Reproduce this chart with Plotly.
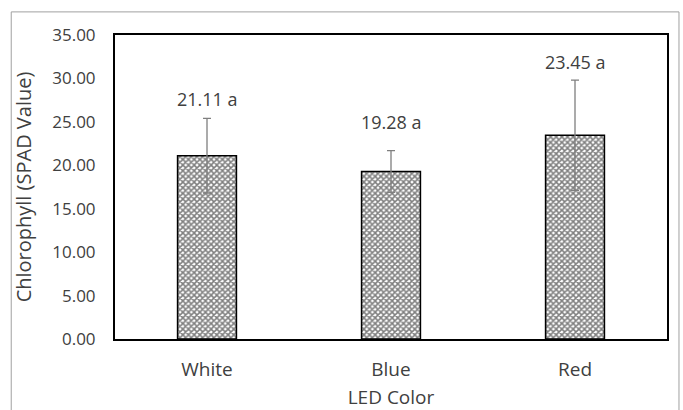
import plotly.graph_objects as go

categories = ["White", "Blue", "Red"]
means = [21.11, 19.28, 23.45]
errors = [4.3, 2.4, 6.35]
letters = ["a", "a", "a"]
y_ticks = [0, 5, 10, 15, 20, 25, 30, 35]

label_shift = [57, 50, 73]

fig = go.Figure()
fig.add_trace(go.Bar(
    x=categories, y=means, width=0.32,
    marker=dict(color="white", line=dict(color="black", width=1.5),
                pattern=dict(shape="x", fgcolor="black", bgcolor="white", size=4, solidity=0.62)),
    error_y=dict(type="data", array=errors, visible=True, color="#7f7f7f", thickness=1.3, width=4),
    showlegend=False,
))

for c, m, l, s in zip(categories, means, letters, label_shift):
    fig.add_annotation(x=c, y=m, text=f"{m:.2f} {l}", showarrow=False, yanchor="middle",
                       yshift=s, font=dict(size=18, color="#404040"))

fig.add_shape(type="rect", xref="paper", yref="paper", x0=-0.188, x1=1.0217, y0=-0.3, y1=1.076,
              line=dict(color="#a0a0a0", width=1), layer="below")

fig.update_layout(
    width=683, height=410,
    margin=dict(l=115, r=16, t=35, b=71),
    plot_bgcolor="white", paper_bgcolor="white",
    font=dict(family="Open Sans, Liberation Sans, sans-serif", size=17, color="#404040"),
)
fig.update_yaxes(range=[0, 35], tickvals=y_ticks, tickformat=".2f", showgrid=False,
                 showline=True, linecolor="black", linewidth=2, mirror=True, automargin=False,
                 ticks="", ticklabelstandoff=14, zeroline=False, tickfont=dict(size=17),
                 title=dict(text="Chlorophyll (SPAD Value)", font=dict(size=20), standoff=15))
fig.update_xaxes(showgrid=False, showline=True, linecolor="black", linewidth=2, mirror=True,
                 automargin=False,
                 ticks="", ticklabelstandoff=12, tickfont=dict(size=19),
                 title=dict(text="LED Color", font=dict(size=19), standoff=10))

fig.write_html("out.html", config={"displayModeBar": False},
               post_script="document.body.style.margin='0';")
